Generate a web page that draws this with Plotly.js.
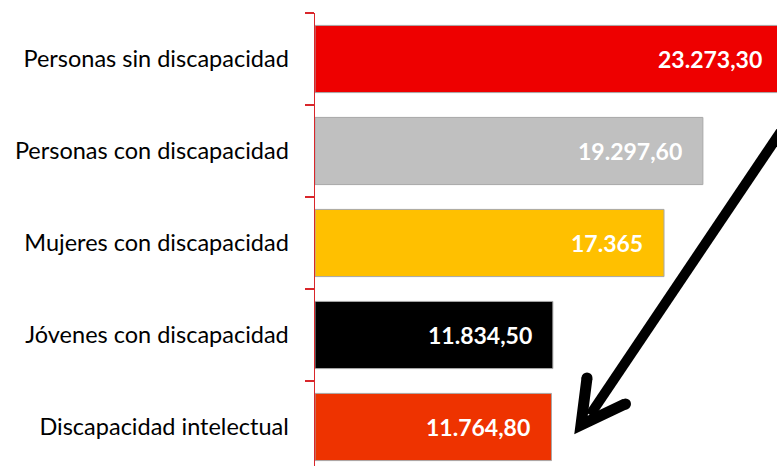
<!DOCTYPE html>
<html>
<head>
<meta charset="utf-8">
<script src="https://cdn.plot.ly/plotly-3.0.1.min.js"></script>
<style>
html,body{margin:0;padding:0;overflow:hidden;background:#fff;}
#chart{width:790px;height:473px;}
</style>
</head>
<body>
<div id="chart"></div>
<script>
// Data (top to bottom)
const categories = [
  "Personas sin discapacidad",
  "Personas con discapacidad",
  "Mujeres con discapacidad",
  "Jóvenes con discapacidad",
  "Discapacidad intelectual"
];
const values = [23273.30, 19297.60, 17365, 11834.50, 11764.80];
const valueLabels = ["23.273,30", "19.297,60", "17.365", "11.834,50", "11.764,80"];
const barColors = ["#ee0000", "#c0c0c0", "#ffc000", "#000000", "#ee3300"];

// Layout geometry (pixels) for decorative arrow
const W = 790, H = 473, L = 315, T = 13;
const PW = W - L, PH = H - T;
function px(x){ return (x - L) / PW; }
function py(y){ return (H - y) / PH; }

const trace = {
  type: "bar",
  orientation: "h",
  y: categories,
  x: values,
  marker: { color: barColors, line: { color: "#a8a8a8", width: 1 } },
  hoverinfo: "none"
};

const annotations = values.map((v, i) => ({
  x: v, y: categories[i], xref: "x", yref: "y",
  text: valueLabels[i], showarrow: false,
  xanchor: "right", xshift: -19,
  font: { family: "Lato, 'Open Sans', sans-serif", size: 23, color: "#ffffff", weight: "bold" }
}));

const arrowColor = "#000000";
const shapes = [
  { type: "line", xref: "paper", yref: "paper",
    x0: px(800), y0: py(103), x1: px(590), y1: py(415),
    line: { color: arrowColor, width: 10 } },
  { type: "path", xref: "paper", yref: "paper",
    path: `M ${px(587)} ${py(378)} L ${px(581)} ${py(425)} L ${px(625)} ${py(404)}`,
    line: { color: arrowColor, width: 11 } },
  { type: "circle", xref: "paper", yref: "paper",
    x0: px(581.5), y0: py(372.5), x1: px(592.5), y1: py(383.5),
    fillcolor: arrowColor, line: { width: 0 } },
  { type: "circle", xref: "paper", yref: "paper",
    x0: px(620), y0: py(398.5), x1: px(631), y1: py(409.5),
    fillcolor: arrowColor, line: { width: 0 } }
];

const layout = {
  width: W, height: H,
  margin: { l: L, r: 0, t: T, b: 0, pad: 0 },
  paper_bgcolor: "#ffffff", plot_bgcolor: "#ffffff",
  showlegend: false,
  bargap: 0.27,
  xaxis: { range: [0, 23632], visible: false, fixedrange: true },
  yaxis: {
    autorange: "reversed",
    showline: true, linecolor: "#d9262b", linewidth: 1.5,
    ticks: "outside", tickson: "boundaries", ticklen: 9, tickcolor: "#d9262b", tickwidth: 1.5,
    ticklabelstandoff: 20,
    showgrid: false, zeroline: false,
    tickfont: { family: "Lato, 'Open Sans', sans-serif", size: 23.5, color: "#000000" },
    fixedrange: true
  },
  annotations: annotations,
  shapes: shapes
};

Plotly.newPlot("chart", [trace], layout, { displayModeBar: false, staticPlot: true });
</script>
</body>
</html>
